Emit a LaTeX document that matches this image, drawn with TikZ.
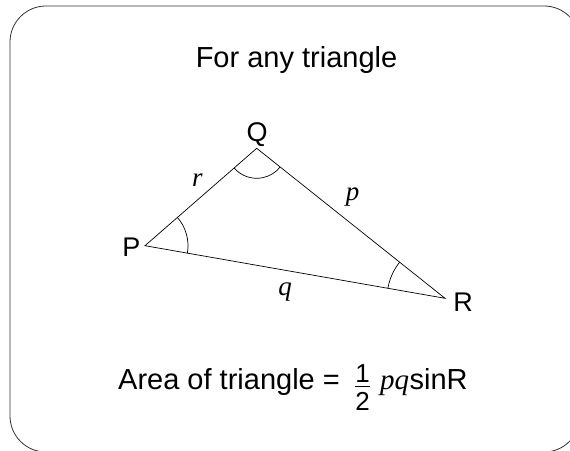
\documentclass[tikz,border=0pt]{standalone}
\usepackage{fontspec}
\setmainfont{Liberation Sans}
\newfontfamily\serifit{Liberation Serif}
\usetikzlibrary{angles}
\tikzset{
  frame/.style={draw=black!80, line width=0.8pt, rounded corners=36pt},
  side/.style={draw=black, line width=0.7pt},
  anglemark/.style={draw=black, line width=0.7pt},
  bigtext/.style={font=\fontsize{29}{34}\selectfont, inner sep=0pt},
  vlabel/.style={font=\fontsize{27}{32}\selectfont, inner sep=0pt, anchor=base},
  slabel/.style={font=\fontsize{27}{32}\selectfont\serifit\itshape, inner sep=0pt, anchor=base},
  fracdigit/.style={font=\fontsize{26}{30}\selectfont, inner sep=0pt, anchor=base},
}
\begin{document}
\begin{tikzpicture}[x=1pt,y=1pt]
\clip (0,0) rectangle (570,450);
\draw[frame] (10,-2) rectangle (580,444);

\coordinate (P) at (145,204.3);
\coordinate (Q) at (256.7,301.7);
\coordinate (R) at (445,151.7);
\draw[side] (P) -- (Q) -- (R) -- cycle;

\pic[anglemark, angle radius=43pt] {angle = R--P--Q};
\pic[anglemark, angle radius=30pt] {angle = P--Q--R};
\pic[anglemark, angle radius=58pt] {angle = Q--R--P};

\node[bigtext, anchor=base] (title) at (296.5,382.7) {For any triangle};

\node[vlabel] (lP) at (131.5,193) {P};
\node[vlabel] (lQ) at (257,308) {Q};
\node[vlabel] (lR) at (463,138) {R};

\node[slabel] (lr) at (197.5,263) {r};
\node[slabel] (lp) at (352.5,249) {p};
\node[slabel] (lq) at (285,154) {q};

\node[bigtext, anchor=base west] (area) at (118,61) {Area of triangle =};
\node[fracdigit] (one) at (362.5,68) {1};
\node[fracdigit] (two) at (362.5,40) {2};
\coordinate (barL) at (355,63.5);
\coordinate (barR) at (370,63.5);
\draw[line width=0.8pt] (barL) -- (barR);
\node[bigtext, anchor=base west, font=\fontsize{29}{34}\selectfont\serifit\itshape] (pq) at (380,61) {pq};
\node[bigtext, anchor=base west] (sinR) at (pq.base east) {sinR};
\end{tikzpicture}
\end{document}
